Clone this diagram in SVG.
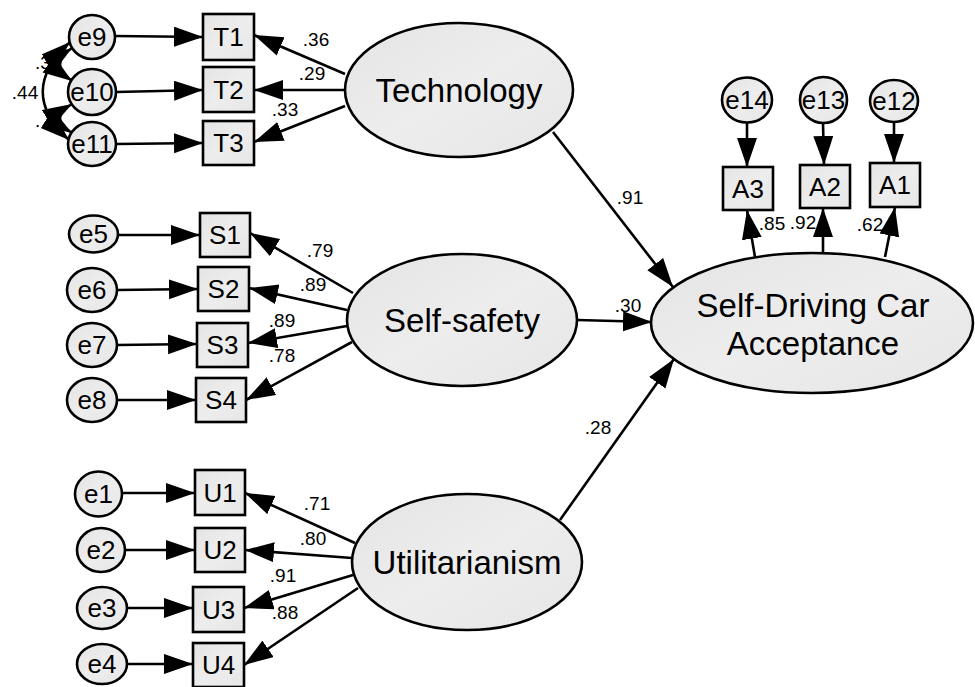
<svg xmlns="http://www.w3.org/2000/svg" width="975" height="687" viewBox="0 0 975 687">
<defs>
<linearGradient id="g" x1="0" y1="0" x2="1" y2="1">
<stop offset="0" stop-color="#e4e4e4"/>
<stop offset="0.5" stop-color="#ededed"/>
<stop offset="1" stop-color="#e6e6e6"/>
</linearGradient>
<marker id="ah" markerUnits="userSpaceOnUse" markerWidth="32" markerHeight="22" refX="29" refY="10" orient="auto-start-reverse" viewBox="0 0 32 22">
<path d="M0,0 L29,10 L0,20 z" fill="#000"/>
</marker>
</defs>
<style>
.n{fill:url(#g);stroke:#000;stroke-width:2.6}
.c line,.c path{stroke:#000;stroke-width:2.6;fill:none;marker-end:url(#ah)}
.c path.b{marker-start:url(#ah)}
text{font-family:"Liberation Sans",Arial,sans-serif;fill:#000;text-anchor:middle;dominant-baseline:central}
.l{font-size:33px}
.s{font-size:26px}
.k{font-size:19px}
</style>
<rect width="975" height="687" fill="#fff"/>

<g class="c" id="connectors">
<line x1="115" y1="36" x2="203" y2="37"/>
<line x1="116" y1="92" x2="203" y2="90"/>
<line x1="116" y1="144" x2="203" y2="143"/>
<line x1="345" y1="74" x2="254" y2="35"/>
<line x1="345" y1="90" x2="254" y2="90"/>
<line x1="345" y1="106" x2="254" y2="142"/>
<line x1="118" y1="235" x2="200" y2="235"/>
<line x1="117" y1="290" x2="198" y2="289"/>
<line x1="117" y1="345" x2="197" y2="344"/>
<line x1="117" y1="400" x2="196" y2="400"/>
<line x1="353" y1="293" x2="250" y2="233"/>
<line x1="347" y1="310" x2="249" y2="288"/>
<line x1="347" y1="326" x2="248" y2="343"/>
<line x1="352" y1="342" x2="246" y2="400"/>
<line x1="122" y1="493" x2="195" y2="493"/>
<line x1="125" y1="550" x2="195" y2="550"/>
<line x1="127" y1="608" x2="193" y2="608"/>
<line x1="127" y1="664" x2="193" y2="664"/>
<line x1="355" y1="543" x2="245" y2="493"/>
<line x1="352" y1="558" x2="245" y2="550"/>
<line x1="353" y1="575" x2="244" y2="608"/>
<line x1="358" y1="588" x2="244" y2="665"/>
<line x1="553" y1="132" x2="673" y2="287"/>
<line x1="577" y1="320" x2="652" y2="322"/>
<line x1="560" y1="520" x2="674" y2="359"/>
<line x1="755" y1="257" x2="747" y2="210"/>
<line x1="823" y1="253" x2="823" y2="208"/>
<line x1="885" y1="257" x2="895" y2="207"/>
<line x1="747" y1="122" x2="747" y2="167"/>
<line x1="823" y1="123" x2="824" y2="165"/>
<line x1="894" y1="122" x2="894" y2="163"/>
<path class="b" d="M72,48 Q48,64 72,81"/>
<path class="b" d="M72,104 Q48,118 72,133"/>
<path class="b" d="M70,42 Q16,92 69,140"/>
</g>

<g id="e9"><ellipse class="n" cx="92" cy="37" rx="23" ry="22"/><text class="s" x="92" y="37">e9</text></g>
<g id="e10"><ellipse class="n" cx="92" cy="92" rx="24" ry="23"/><text class="s" x="92" y="92">e10</text></g>
<g id="e11"><ellipse class="n" cx="92" cy="144" rx="24" ry="22"/><text class="s" x="92" y="144">e11</text></g>
<g id="T1"><rect class="n" x="203" y="14" width="51" height="46"/><text class="s" x="228.5" y="37">T1</text></g>
<g id="T2"><rect class="n" x="203" y="67" width="51" height="45"/><text class="s" x="228.5" y="89.5">T2</text></g>
<g id="T3"><rect class="n" x="203" y="121" width="51" height="44"/><text class="s" x="228.5" y="143">T3</text></g>
<g id="Technology"><ellipse class="n" cx="459" cy="90" rx="114" ry="67"/><text class="l" x="459" y="90">Technology</text></g>

<g id="e5"><ellipse class="n" cx="93.5" cy="234" rx="24.5" ry="18.5"/><text class="s" x="93.5" y="234">e5</text></g>
<g id="e6"><ellipse class="n" cx="92" cy="290" rx="25" ry="22"/><text class="s" x="92" y="290">e6</text></g>
<g id="e7"><ellipse class="n" cx="92" cy="345" rx="25" ry="22"/><text class="s" x="92" y="345">e7</text></g>
<g id="e8"><ellipse class="n" cx="92" cy="400" rx="25" ry="22"/><text class="s" x="92" y="400">e8</text></g>
<g id="S1"><rect class="n" x="200" y="213" width="50" height="44"/><text class="s" x="225" y="235">S1</text></g>
<g id="S2"><rect class="n" x="198" y="267" width="51" height="44"/><text class="s" x="223.5" y="289">S2</text></g>
<g id="S3"><rect class="n" x="197" y="323" width="51" height="44"/><text class="s" x="222.5" y="345">S3</text></g>
<g id="S4"><rect class="n" x="196" y="378" width="50" height="44"/><text class="s" x="221" y="400">S4</text></g>
<g id="Self-safety"><ellipse class="n" cx="462" cy="320" rx="115" ry="66"/><text class="l" x="462" y="320">Self-safety</text></g>

<g id="e1"><ellipse class="n" cx="98.5" cy="494" rx="23.5" ry="22.5"/><text class="s" x="98.5" y="494">e1</text></g>
<g id="e2"><ellipse class="n" cx="101" cy="550" rx="24" ry="22"/><text class="s" x="101" y="550">e2</text></g>
<g id="e3"><ellipse class="n" cx="102" cy="608" rx="25" ry="21"/><text class="s" x="102" y="608">e3</text></g>
<g id="e4"><ellipse class="n" cx="102" cy="664" rx="25" ry="20"/><text class="s" x="102" y="664">e4</text></g>
<g id="U1"><rect class="n" x="195" y="470" width="50" height="45"/><text class="s" x="220" y="492.5">U1</text></g>
<g id="U2"><rect class="n" x="195" y="528" width="50" height="44"/><text class="s" x="220" y="550">U2</text></g>
<g id="U3"><rect class="n" x="193" y="587" width="51" height="45"/><text class="s" x="218.5" y="609.5">U3</text></g>
<g id="U4"><rect class="n" x="193" y="643" width="51" height="44"/><text class="s" x="218.5" y="665">U4</text></g>
<g id="Utilitarianism"><ellipse class="n" cx="467" cy="562" rx="115" ry="68"/><text class="l" x="467" y="562">Utilitarianism</text></g>

<g id="SDCA"><ellipse class="n" cx="812" cy="323" rx="161" ry="70"/><text class="l" x="813" y="305">Self-Driving Car</text><text class="l" x="813" y="343">Acceptance</text></g>
<g id="e14"><ellipse class="n" cx="747" cy="100" rx="25" ry="22.5"/><text class="s" x="747" y="100">e14</text></g>
<g id="e13"><ellipse class="n" cx="823.5" cy="100" rx="23.5" ry="23"/><text class="s" x="823.5" y="100">e13</text></g>
<g id="e12"><ellipse class="n" cx="894" cy="101" rx="24" ry="21"/><text class="s" x="894" y="101">e12</text></g>
<g id="A3"><rect class="n" x="723" y="167" width="50" height="43"/><text class="s" x="748" y="188.5">A3</text></g>
<g id="A2"><rect class="n" x="800" y="165" width="50" height="43"/><text class="s" x="825" y="186.5">A2</text></g>
<g id="A1"><rect class="n" x="870" y="163" width="50" height="44"/><text class="s" x="895" y="185">A1</text></g>

<g id="labels">
<text class="k" x="316" y="39">.36</text>
<text class="k" x="312" y="73">.29</text>
<text class="k" x="285" y="109">.33</text>
<text class="k" x="320" y="250">.79</text>
<text class="k" x="313" y="284">.89</text>
<text class="k" x="282" y="320">.89</text>
<text class="k" x="282" y="355">.78</text>
<text class="k" x="317" y="503">.71</text>
<text class="k" x="313" y="538">.80</text>
<text class="k" x="283" y="575">.91</text>
<text class="k" x="285" y="612">.88</text>
<text class="k" x="630" y="197">.91</text>
<text class="k" x="628" y="305">.30</text>
<text class="k" x="598" y="427">.28</text>
<text class="k" x="772" y="223">.85</text>
<text class="k" x="803" y="222">.92</text>
<text class="k" x="870" y="224">.62</text>
<text class="k" x="25" y="92">.44</text>
<text class="k" x="35" y="62" style="text-anchor:start">.3</text>
<text class="k" x="35" y="120" style="text-anchor:start">.</text>
</g>
</svg>
